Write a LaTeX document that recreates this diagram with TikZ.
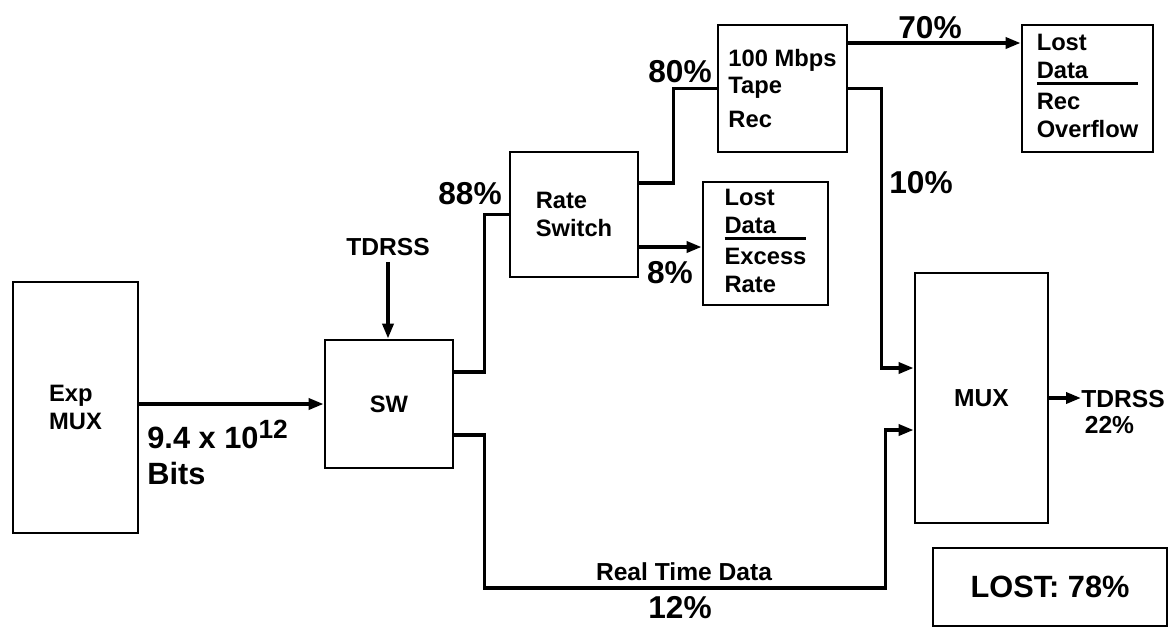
\documentclass[tikz,border=0pt]{standalone}
\usepackage{fontspec}
\setmainfont{Liberation Sans}
\usetikzlibrary{positioning,arrows.meta,calc}
\setlength{\arrayrulewidth}{1.3pt}

\begin{document}
\begin{tikzpicture}[x=0.2mm, y=-0.2mm,
  box/.style={draw, line width=1.6pt, inner sep=0pt},
  boxtext/.style={font=\fontsize{13.5}{15.5}\selectfont\bfseries},
  lbl/.style={font=\fontsize{14}{14.5}\selectfont\bfseries},
  pct/.style={font=\fontsize{18}{20}\selectfont\bfseries},
  wire/.style={line width=2pt},
  arrow/.style={wire, -{Triangle[length=3mm, width=2.2mm]}}]

\useasboundingbox (0,0) rectangle (1176,631);

%boxes
\node[box, boxtext, align=left, minimum width=25mm, minimum height=50.2mm] (expmux) at (75.5,407.5) {Exp\\MUX};
\node[box, boxtext, minimum width=25.6mm, minimum height=25.6mm] (sw) at (389,404) {SW};
\node[box, boxtext, align=left, minimum width=25.6mm, minimum height=25mm] (rate) at (574,214.5) {Rate\\Switch};
\node[box, boxtext, minimum width=25mm, minimum height=24.6mm] (lostex) at (765.5,243.5)
  {\begin{tabular}{@{}l@{}}Lost\\Data\\[-2.3pt]\hline\noalign{\vskip 3.5pt}Excess\\Rate\end{tabular}};
\node[box, boxtext, align=left, minimum width=25.8mm, minimum height=25.4mm] (tape) at (782.5,88.5) {100 Mbps\\Tape\\[4pt]Rec};
\node[box, boxtext, minimum width=26.2mm, minimum height=25.4mm] (lostrec) at (1087.5,88.5)
  {\begin{tabular}{@{}l@{}}Lost\\Data\\[-2.3pt]\hline\noalign{\vskip 3.5pt}Rec\\Overflow\end{tabular}};
\node[box, lbl, minimum width=26.6mm, minimum height=50mm] (mux) at (981.5,398) {MUX};
\node[box, font=\fontsize{17.5}{20}\selectfont\bfseries, minimum width=46.8mm, minimum height=15.6mm] (lost) at (1050,587) {LOST: 78\%};

%labels
\node[lbl] (tdrssin) at (388,247) {TDRSS};
\node[font=\fontsize{17.5}{20}\selectfont\bfseries, align=left, anchor=west, inner sep=0pt] (bits) at (147,452)
  {9.4 x 10\raisebox{0.35em}{\fontsize{15}{15}\selectfont 12}\\Bits};
\node[pct] (p88) at (470,194) {88\%};
\node[pct] (p80) at (680,72) {80\%};
\node[pct] (p8) at (670,273) {8\%};
\node[pct] (p70) at (930,28) {70\%};
\node[pct] (p10) at (921,183) {10\%};
\node[lbl] (rtd) at (684,572) {Real Time Data};
\node[pct] (p12) at (680,608) {12\%};
\node[lbl, align=left, anchor=west, inner sep=0pt] (tdrssout) at (1081,412) {TDRSS\\\hspace{2pt}22\%};

%anchor points
\coordinate (r8) at ([yshift=-6.5mm]rate.east);
\coordinate (t70) at ([yshift=9.1mm]tape.east);
\coordinate (rtin) at ([yshift=-6.4mm]mux.west);

%connectors
\draw[arrow] (expmux.east |- sw.west) -- (sw.west);
\draw[arrow] (tdrssin.south) -- (tdrssin.south |- sw.north);
\draw[wire] ([yshift=6.4mm]sw.east) -- ++(30,0) |- (rate.west);
\draw[arrow] ([yshift=-6.2mm]sw.east) -- ++(30,0) -- ++(0,153) -| ($(rtin)+(-28,0)$) -- (rtin);
\draw[wire] ([yshift=6.3mm]rate.east) -- ++(34,0) |- (tape.west);
\draw[arrow] (r8) -- (r8 -| lostex.west);
\draw[arrow] (t70) -- (t70 -| lostrec.west);
\draw[arrow] (tape.east) -- ++(33,0) |- ([yshift=6mm]mux.west);
\draw[arrow] (mux.east) -- (mux.east -| tdrssout.west);

\end{tikzpicture}
\end{document}
